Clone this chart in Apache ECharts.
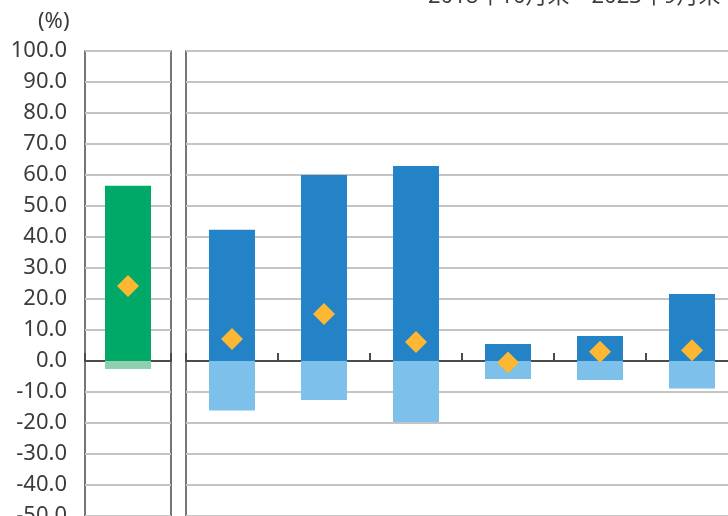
<!DOCTYPE html>
<html>
<head>
<meta charset="utf-8">
<script src="https://cdn.jsdelivr.net/npm/echarts@6/dist/echarts.min.js"></script>
<style>html,body{margin:0;padding:0;background:#fff;overflow:hidden}#c{width:780px;height:580px}</style>
</head>
<body>
<div id="c"></div>
<script>
const titleText = '2018年10月末～2023年9月末';
const unitText = '(%)';
const leftCats = ['A'];
const leftPos = [56.5];
const leftNeg = [-2.6];
const leftAvg = [24.2];
const rightCats = ['B1','B2','B3','B4','B5','B6'];
const rightPos = [42.3, 60.0, 62.9, 5.5, 8.1, 21.6];
const rightNeg = [-16.0, -12.6, -19.7, -5.8, -6.1, -8.9];
const rightAvg = [7.1, 15.2, 6.1, -0.5, 3.0, 3.5];
const yMin = -60, yMax = 100, yStep = 10;

const chart = echarts.init(document.getElementById('c'), null, {renderer: 'canvas'});
const font = '"Noto Sans", "Noto Sans CJK JP", sans-serif';
const axisDark = '#4a4a4a';
const splitGray = '#c4c4c4';
const textColor = '#3c3c3c';

function yAxis(idx, showLabel) {
  return {
    type: 'value', gridIndex: idx, min: yMin, max: yMax, interval: yStep,
    axisLine: {show: false}, axisTick: {show: false},
    axisLabel: {show: showLabel, formatter: v => v.toFixed(1), fontSize: 22, color: textColor, margin: 18, fontFamily: font},
    splitLine: {show: true, lineStyle: {color: splitGray, width: 2}}
  };
}
function xAxis(idx, cats) {
  return {
    type: 'category', gridIndex: idx, data: cats,
    axisLine: {show: true, onZero: true, lineStyle: {color: axisDark, width: 2}},
    axisTick: {show: true, inside: true, length: 8, lineStyle: {color: axisDark, width: 2}},
    axisLabel: {show: false}, splitLine: {show: false}
  };
}

chart.setOption({
  animation: false,
  backgroundColor: '#fff',
  grid: [
    {left: 85, top: 51, width: 86, height: 496, show: true, borderColor: axisDark, borderWidth: 1.5, backgroundColor: 'transparent'},
    {left: 186, top: 51, width: 552, height: 496, show: true, borderColor: axisDark, borderWidth: 1.5, backgroundColor: 'transparent'}
  ],
  xAxis: [xAxis(0, leftCats), xAxis(1, rightCats)],
  yAxis: [yAxis(0, true), yAxis(1, false)],
  graphic: [
    {type: 'text', x: 38, y: 11, style: {text: unitText, fontSize: 22, fill: textColor, fontFamily: font}},
    {type: 'text', x: 428, y: -3, style: {text: titleText, fontSize: 22, fill: textColor, fontFamily: font, textVerticalAlign: 'middle'}}
  ],
  series: [
    {type: 'bar', xAxisIndex: 0, yAxisIndex: 0, data: leftPos, barWidth: 46, barGap: '-100%', itemStyle: {color: '#00A968'}, z: 2},
    {type: 'bar', xAxisIndex: 0, yAxisIndex: 0, data: leftNeg, barWidth: 46, barGap: '-100%', itemStyle: {color: '#8DCFAE'}, z: 2},
    {type: 'scatter', xAxisIndex: 0, yAxisIndex: 0, data: leftAvg, symbol: 'diamond', symbolSize: 22, itemStyle: {color: '#FDB733', opacity: 1}, z: 5},
    {type: 'bar', xAxisIndex: 1, yAxisIndex: 1, data: rightPos, barWidth: 46, barGap: '-100%', itemStyle: {color: '#2383C6'}, z: 2},
    {type: 'bar', xAxisIndex: 1, yAxisIndex: 1, data: rightNeg, barWidth: 46, barGap: '-100%', itemStyle: {color: '#7DC0EA'}, z: 2},
    {type: 'scatter', xAxisIndex: 1, yAxisIndex: 1, data: rightAvg, symbol: 'diamond', symbolSize: 22, itemStyle: {color: '#FDB733', opacity: 1}, z: 5}
  ]
});
</script>
</body>
</html>
